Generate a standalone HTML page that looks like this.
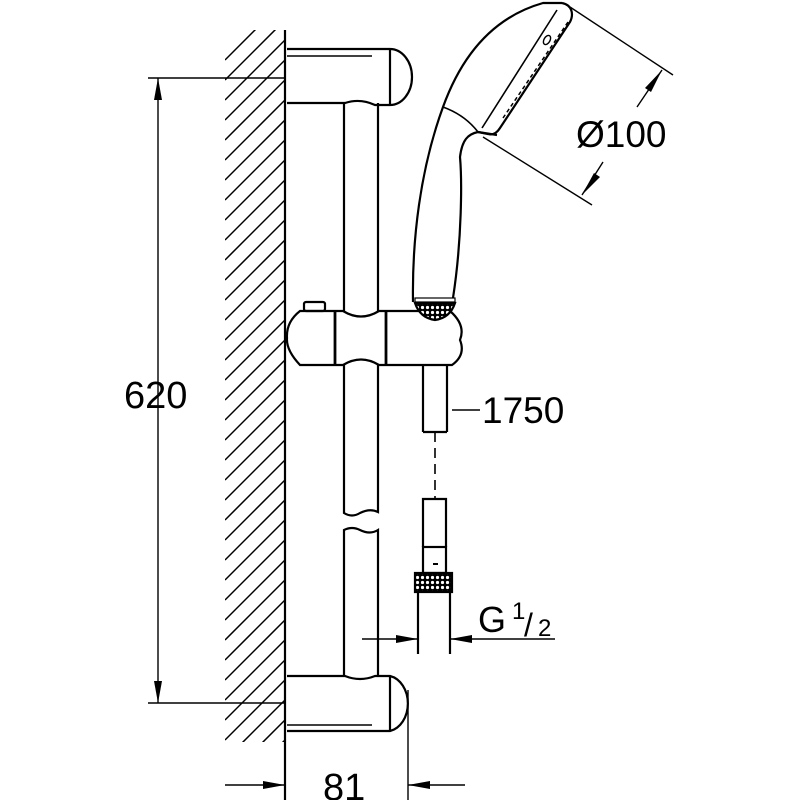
<!DOCTYPE html>
<html><head><style>html,body{margin:0;padding:0;background:#fff}svg{display:block}</style></head><body>
<svg width="800" height="800" viewBox="0 0 800 800" xmlns="http://www.w3.org/2000/svg">
<defs>
<clipPath id="wall"><rect x="225" y="30" width="60" height="712"/></clipPath>
<pattern id="knurl" width="5" height="5" patternUnits="userSpaceOnUse"><rect width="5" height="5" fill="#000"/><circle cx="2.5" cy="2.5" r="1.6" fill="#fff"/></pattern>
</defs>
<g fill="none" stroke="#000" stroke-width="2.2">
<g clip-path="url(#wall)" stroke-width="1.5">
<path d="M225,60 l60,-60 M225,80 l60,-60 M225,100 l60,-60 M225,120 l60,-60 M225,140 l60,-60 M225,160 l60,-60 M225,180 l60,-60 M225,200 l60,-60 M225,220 l60,-60 M225,240 l60,-60 M225,260 l60,-60 M225,280 l60,-60 M225,300 l60,-60 M225,320 l60,-60 M225,340 l60,-60 M225,360 l60,-60 M225,380 l60,-60 M225,400 l60,-60 M225,420 l60,-60 M225,440 l60,-60 M225,460 l60,-60 M225,480 l60,-60 M225,500 l60,-60 M225,520 l60,-60 M225,540 l60,-60 M225,560 l60,-60 M225,580 l60,-60 M225,600 l60,-60 M225,620 l60,-60 M225,640 l60,-60 M225,660 l60,-60 M225,680 l60,-60 M225,700 l60,-60 M225,720 l60,-60 M225,740 l60,-60 M225,760 l60,-60 M225,780 l60,-60 M225,800 l60,-60"/>
</g>
<line x1="285" y1="30" x2="285" y2="800"/>
<path d="M287,49 L390,49 A22,28 0 0 1 390,105 L375,105 Q360,98 345,103 L287,103"/>
<line x1="390" y1="49" x2="390" y2="105"/>
<line x1="287" y1="56" x2="372" y2="56" stroke-width="1.4"/>
<path d="M287,676 L345,676 Q360,682 375,676 L390,676 A22,28 0 0 1 390,731 L287,731"/>
<line x1="390" y1="676" x2="390" y2="731"/>
<line x1="287" y1="725" x2="372" y2="725" stroke-width="1.4"/>
<path d="M344,103 L344,311 M378,103 L378,311"/>
<path d="M344,365 L344,513 Q352,518 360,513 Q370,508 378,512 L378,365"/>
<path d="M344,676 L344,530 Q352,526 360,530 Q370,535 378,530 L378,676"/>
<path d="M300,311 L343,311 Q361,322 379,311 L450,311 Q466,325 460,340 Q466,355 452,365 L379,365 Q361,354 343,365 L300,365 Q286,350 287,338 Q286,322 300,311 Z"/>
<line x1="335" y1="311" x2="335" y2="365" stroke-width="2.8"/>
<line x1="386" y1="311" x2="386" y2="365" stroke-width="2.8"/>
<rect x="304" y="302" width="21" height="9" rx="2"/>
<path d="M423,365 L423,432 M447,365 L447,432 M423,432 L447,432"/>
<line x1="435" y1="432" x2="435" y2="498" stroke-dasharray="10,6" stroke-width="1.6"/>
<path d="M423,547 L423,499 L446,499 L446,547"/>
<rect x="423" y="547" width="23" height="26"/>
<rect x="433" y="563" width="5" height="2" fill="#000" stroke="none"/>
<rect x="415" y="573" width="37" height="19" fill="url(#knurl)"/>
<path d="M418,592 L418,654 M450,592 L450,654"/>
<path d="M413,302 C412,240 420,170 443,107 C460,60 490,18 543,3 L562,3"/>
<path d="M453,298 C462,240 462,180 460,157 C462,140 468,134 478,132 L497,135"/>
<path d="M443,107 Q465,115 478,132" stroke-width="1.6"/>
<path d="M562,3 C572,5 574,14 570,22 L500,128 Q495,136 488,134 L478,132"/>
<path d="M557,10 L482,128" stroke-width="1.6"/>
<path d="M568,22 L503,118" stroke-width="1.5" stroke-dasharray="4,3"/>
<ellipse cx="547" cy="40" rx="3" ry="5" transform="rotate(30 547 40)" stroke-width="1.4"/>
<rect x="415" y="298" width="40" height="4" stroke-width="1.2"/>
<path d="M415,303 L455,303 Q450,318 435,320 Q420,318 415,303 Z" fill="url(#knurl)"/>
<g stroke-width="1.4">
<line x1="570" y1="7" x2="673" y2="75"/>
<line x1="483" y1="137" x2="592" y2="205"/>
<line x1="662" y1="70" x2="637" y2="107"/>
<line x1="582" y1="195" x2="603" y2="162"/>
</g>
<g stroke-width="1.4">
<line x1="148" y1="78" x2="285" y2="78"/>
<line x1="148" y1="703" x2="285" y2="703"/>
<line x1="158" y1="78" x2="158" y2="703"/>
</g>
<g stroke-width="1.4">
<line x1="362" y1="639" x2="418" y2="639"/>
<line x1="450" y1="639" x2="555" y2="639"/>
<line x1="452" y1="410" x2="480" y2="410"/>
<line x1="408" y1="690" x2="408" y2="800"/>
<line x1="225" y1="785" x2="285" y2="785"/>
<line x1="408" y1="785" x2="465" y2="785"/>
</g>
</g>
<g fill="#000">
<polygon points="662,70 651,92 645,88"/>
<polygon points="582,195 594,173 600,177"/>
<polygon points="158,78 154,100 162,100"/>
<polygon points="158,703 154,681 162,681"/>
<polygon points="418,639 396,635 396,643"/>
<polygon points="450,639 472,635 472,643"/>
<polygon points="285,785 263,781 263,789"/>
<polygon points="408,785 430,781 430,789"/>
</g>
<g font-family="Liberation Sans, sans-serif" fill="#000">
<text x="576" y="147" font-size="37">Ø100</text>
<text x="124" y="408" font-size="38">620</text>
<text x="482" y="423" font-size="37">1750</text>
<text x="478" y="632" font-size="36">G</text>
<text x="512" y="619" font-size="24">1</text>
<text x="524" y="636" font-size="32">/</text>
<text x="538" y="636" font-size="24">2</text>
<text x="323" y="800" font-size="38">81</text>
</g>
</svg>
</body></html>
